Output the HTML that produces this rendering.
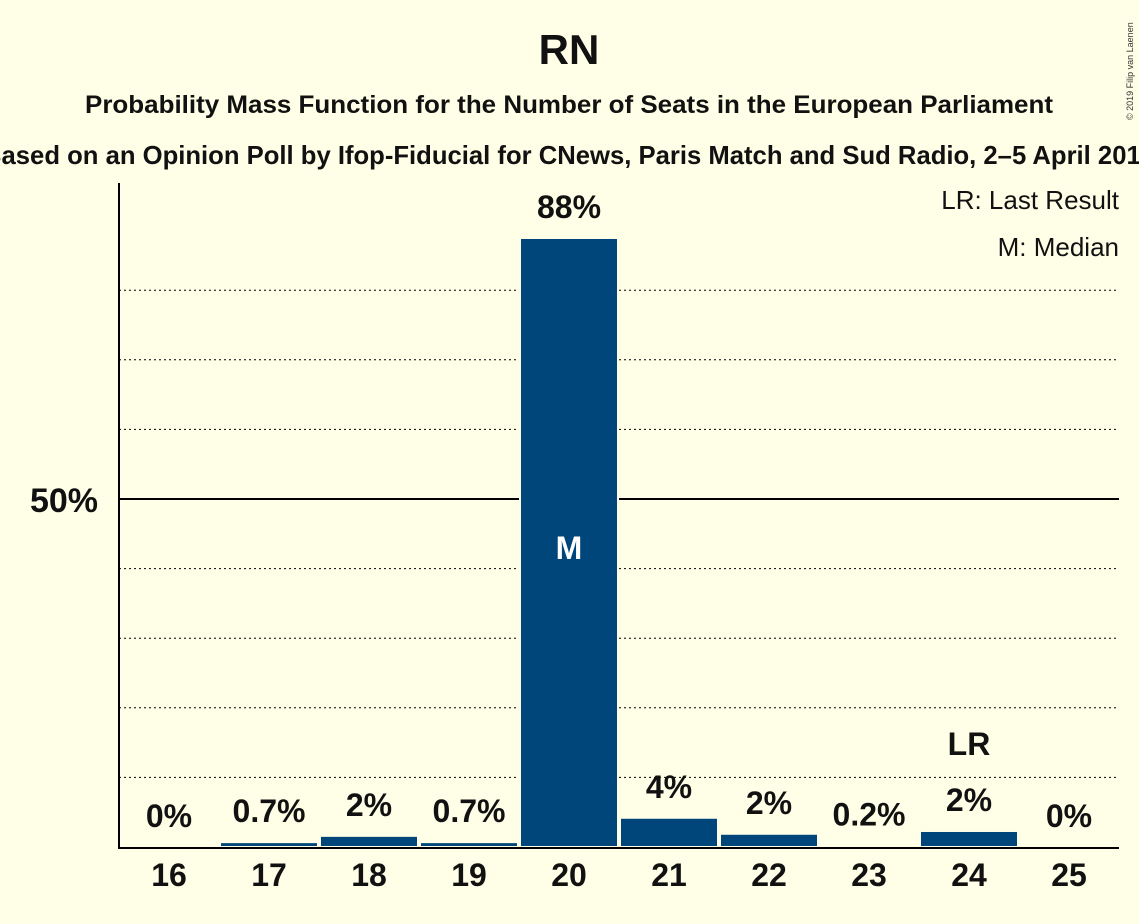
<!DOCTYPE html>
<html><head><meta charset="utf-8"><style>
body{margin:0;background:#FFFEE6;}
svg{display:block;font-family:"Liberation Sans",sans-serif;font-weight:bold;}
</style></head><body>
<svg id="chart" width="1139" height="924">
<rect width="1139" height="924" fill="#FFFEE6"/>
<text x="569" y="64" font-size="42" text-anchor="middle" fill="#111">RN</text>
<text x="569" y="113" font-size="25" text-anchor="middle" textLength="968" lengthAdjust="spacingAndGlyphs" fill="#111">Probability Mass Function for the Number of Seats in the European Parliament</text>
<text x="569" y="164" font-size="26" text-anchor="middle" textLength="1172" lengthAdjust="spacingAndGlyphs" fill="#111">Based on an Opinion Poll by Ifop-Fiducial for CNews, Paris Match and Sud Radio, 2–5 April 2019</text>
<text x="1133" y="120" font-size="9" font-weight="normal" fill="#333" transform="rotate(-90 1133 120)">© 2019 Filip van Laenen</text>
<g id="grid"></g>
<g id="bars"></g>
<line x1="119" y1="183" x2="119" y2="848" stroke="#000" stroke-width="2"/>
<line x1="118" y1="848" x2="1119" y2="848" stroke="#000" stroke-width="2"/>
<text x="98" y="512" font-size="34" text-anchor="end" fill="#111">50%</text>
<text x="1119" y="209" font-size="26" font-weight="normal" text-anchor="end" fill="#111">LR: Last Result</text>
<text x="1119" y="256" font-size="26" font-weight="normal" text-anchor="end" fill="#111">M: Median</text>
</svg>
<script>
const seats=[16,17,18,19,20,21,22,23,24,25];
const probs=[0,0.7,1.6,0.7,87.5,4.2,1.9,0.2,2.3,0];
const labels=["0%","0.7%","2%","0.7%","88%","4%","2%","0.2%","2%","0%"];
const medianSeat=20, lastResultSeat=24;
const gridTicks=[10,20,30,40,60,70,80];
const NS="http://www.w3.org/2000/svg";
const x0=119,step=100,yBase=847,pxPer=6.96;
const xs=i=>x0+i*step;
const ys=v=>yBase-v*pxPer;
function mk(t,a,p){const e=document.createElementNS(NS,t);for(const k in a)e.setAttribute(k,a[k]);p.appendChild(e);return e;}
const grid=document.getElementById('grid'),bars=document.getElementById('bars');
gridTicks.forEach(g=>{const l=mk('line',{x1:x0,x2:1119,y1:ys(g),y2:ys(g),stroke:'#000','stroke-width':1,'stroke-dasharray':'2,3'},grid);

});
const l50=mk('line',{x1:x0,x2:1119,y1:ys(50),y2:ys(50),stroke:'#000','stroke-width':2},grid);


seats.forEach((s,i)=>{
 const top=ys(probs[i]);
 const r=mk('rect',{x:xs(i)+1,y:top,width:98,height:yBase-top,fill:'#00467A',stroke:'#FFFEE6','stroke-width':2},bars);
 
 
 const t=mk('text',{x:xs(i)+50,y:top-20,'font-size':32,'text-anchor':'middle',fill:'#111'},bars);t.textContent=labels[i];
 
 
 const xt=mk('text',{x:xs(i)+50,y:886,'font-size':32,'text-anchor':'middle',fill:'#111'},bars);xt.textContent=s;
 
 
 if(s===medianSeat){const m=mk('text',{x:xs(i)+50,y:559,'font-size':32,'text-anchor':'middle',fill:'#fff'},bars);m.textContent='M';
  
  }
 if(s===lastResultSeat){const m=mk('text',{x:xs(i)+50,y:top-76,'font-size':32,'text-anchor':'middle',fill:'#111'},bars);m.textContent='LR';
  
  }
});
</script>
</body></html>
